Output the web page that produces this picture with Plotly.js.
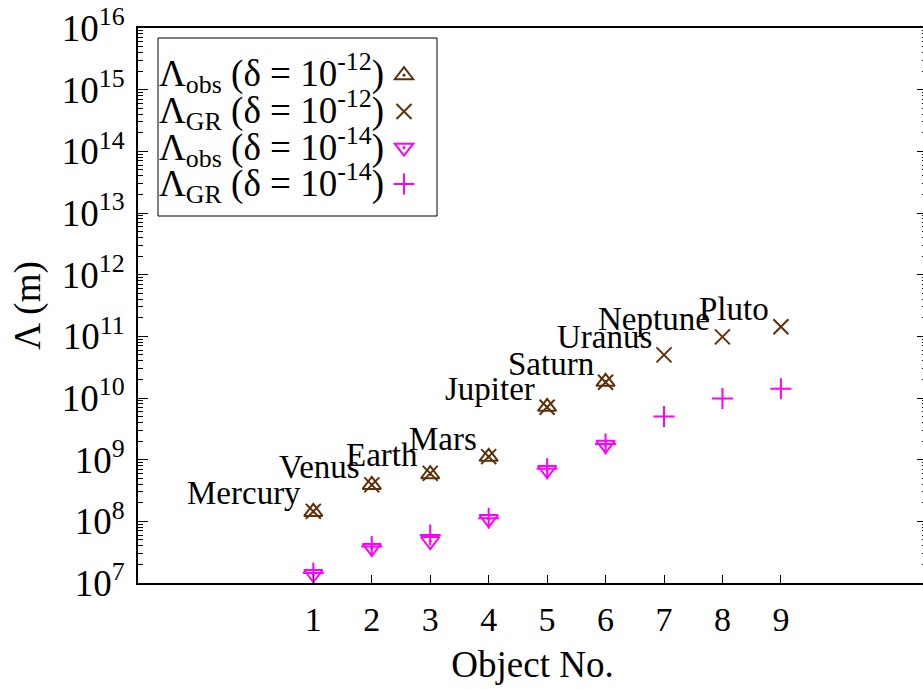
<!DOCTYPE html>
<html>
<head>
<meta charset="utf-8">
<script src="https://cdn.plot.ly/plotly-3.0.1.min.js"></script>
<style>
html, body { margin: 0; padding: 0; overflow: hidden; background: #fff; }
#chart { width: 928px; height: 689px; }
</style>
</head>
<body>
<div id="chart"></div>
<script>
// ---- data ----
const objectNo = [1, 2, 3, 4, 5, 6, 7, 8, 9];
const objectNames = ['Mercury', 'Venus', 'Earth', 'Mars', 'Jupiter', 'Saturn', 'Uranus', 'Neptune', 'Pluto'];
const lambdaObs12 = [1.42e8, 3.9e8, 5.8e8, 1.11e9, 7.2e9, 1.83e10, null, null, null];
const lambdaGR12  = [1.45e8, 3.9e8, 6.0e8, 1.12e9, 7.1e9, 1.8e10, 5.0e10, 9.8e10, 1.43e11];
const lambdaObs14 = [1.40e7, 3.7e7, 4.8e7, 1.09e8, 6.8e8, 1.74e9, null, null, null];
const lambdaGR14  = [1.45e7, 3.9e7, 6.0e7, 1.12e8, 7.1e8, 1.8e9, 5.0e9, 9.8e9, 1.41e10];
const yExponents = [7, 8, 9, 10, 11, 12, 13, 14, 15, 16];
const seriesLabels = [
  'Λ<sub>obs</sub> (δ = 10<sup>-12</sup>)',
  'Λ<sub>GR</sub> (δ = 10<sup>-12</sup>)',
  'Λ<sub>obs</sub> (δ = 10<sup>-14</sup>)',
  'Λ<sub>GR</sub> (δ = 10<sup>-14</sup>)'
];

const brown = '#5e300a';
const magenta = '#ff00ff';
const FONT = 'Liberation Serif, Times New Roman, serif';

const yTickVals = yExponents.map(e => Math.pow(10, e));
const yTickText = yExponents.map(e => '10<sup>' + e + '</sup>');
const yMinorVals = [];
yExponents.slice(0, -1).forEach(e => { for (let d = 2; d <= 9; d++) yMinorVals.push(d * Math.pow(10, e)); });

function mk(y, symbol, color, size) {
  return {
    x: objectNo, y: y, type: 'scatter', mode: 'markers', name: ' ',
    marker: { symbol: symbol, size: size, color: color, line: { color: color, width: 2 } },
    cliponaxis: false, hoverinfo: 'x+y'
  };
}
const traces = [
  mk(lambdaObs12, 'triangle-up-open-dot', brown, 16),
  mk(lambdaGR12, 'x-thin-open', brown, 15),
  mk(lambdaObs14, 'triangle-down-open-dot', magenta, 16),
  mk(lambdaGR14, 'cross-thin-open', magenta, 15)
];

// plot-area pixel geometry
const W = 928, H = 689, ML = 138, MR = 1, MT = 28, MB = 106;
const PW = W - ML - MR, PH = H - MT - MB;
const px2x = p => (p - ML) / PW;
const py2y = p => (H - MB - p) / PH;

const annotations = [];
// planet labels
objectNames.forEach((n, i) => {
  annotations.push({
    text: n, x: objectNo[i], y: Math.log10(lambdaGR12[i]), xref: 'x', yref: 'y',
    xanchor: 'right', yanchor: 'middle', xshift: -10, yshift: 18, showarrow: false,
    font: { family: FONT, size: 33, color: '#000' }
  });
});
// legend texts (gnuplot style: text left of symbol)
const legendY = [73, 110, 147, 183];
seriesLabels.forEach((t, i) => {
  annotations.push({
    text: t, xref: 'paper', yref: 'paper', x: px2x(386), y: py2y(legendY[i]),
    xanchor: 'right', yanchor: 'middle', showarrow: false,
    font: { family: FONT, size: 37, color: '#000' }
  });
});

const layout = {
  width: W, height: H,
  margin: { l: ML, r: MR, t: MT, b: MB, pad: 0 },
  paper_bgcolor: '#fff', plot_bgcolor: '#fff',
  font: { family: FONT, color: '#000' },
  showlegend: true,
  legend: {
    x: px2x(384), y: py2y(52), xanchor: 'left', yanchor: 'top',
    bgcolor: 'rgba(0,0,0,0)', borderwidth: 0,
    font: { family: FONT, size: 25.6, color: '#000' },
    tracegroupgap: 0, itemwidth: 30
  },
  xaxis: {
    range: [-2, 11.5], tickvals: objectNo, ticktext: objectNo.map(String),
    ticks: 'inside', ticklen: 8, tickwidth: 1, tickcolor: '#000',
    showline: true, linecolor: '#000', linewidth: 2, mirror: true,
    showgrid: false, zeroline: false, ticklabelstandoff: 5,
    tickfont: { family: FONT, size: 34, color: '#000' },
    title: { text: 'Object No.', font: { family: FONT, size: 37, color: '#000' }, standoff: 14 }
  },
  yaxis: {
    type: 'log', range: [7, 16], tickmode: 'array', tickvals: yTickVals, ticktext: yTickText,
    ticks: 'inside', ticklen: 10, tickwidth: 1, tickcolor: '#000',
    minor: { tickmode: 'array', tickvals: yMinorVals, ticks: 'inside', ticklen: 5, tickwidth: 1, tickcolor: '#000', showgrid: false },
    showline: true, linecolor: '#000', linewidth: 2, mirror: 'ticks',
    showgrid: false, zeroline: false, ticklabelstandoff: 4,
    tickfont: { family: FONT, size: 37, color: '#000' },
    title: { text: 'Λ (m)', font: { family: FONT, size: 37, color: '#000' }, standoff: 10 }
  },
  shapes: [{
    type: 'rect', xref: 'paper', yref: 'paper',
    x0: px2x(158), x1: px2x(437), y0: py2y(216), y1: py2y(38),
    line: { color: '#000', width: 1 }, fillcolor: 'rgba(0,0,0,0)'
  }],
  annotations: annotations
};

Plotly.newPlot('chart', traces, layout, { displayModeBar: false, staticPlot: true });
</script>
</body>
</html>
